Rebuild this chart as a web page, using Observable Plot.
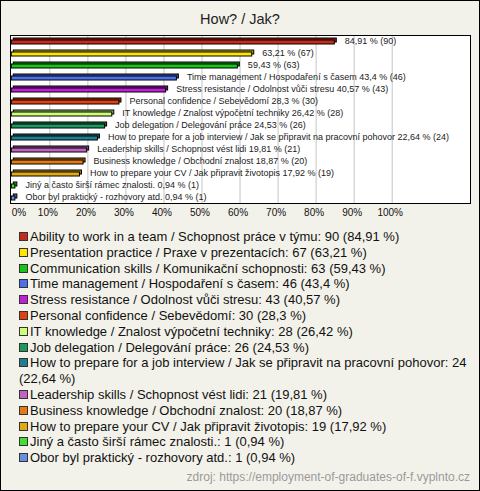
<!DOCTYPE html>
<html>
<head>
<meta charset="utf-8">
<script src="https://cdn.jsdelivr.net/npm/d3@7"></script>
<script src="https://cdn.jsdelivr.net/npm/@observablehq/plot@0.6"></script>
<style>
  html, body { margin: 0; padding: 0; }
  #chart {
    position: relative; width: 480px; height: 491px; overflow: hidden;
    background: #f3f2ea; box-shadow: inset 0 0 0 1px #000;
    font-family: Arial, "Liberation Sans", sans-serif;
  }
  #title {
    position: absolute; left: 0; top: 11px; width: 480px; text-align: center;
    font-size: 14.5px; line-height: 17px; color: #222;
  }
  #plot { position: absolute; left: 0; top: 0; }
  #legend {
    position: absolute; left: 19px; top: 229px; width: 452px;
    font-size: 13px; line-height: 15.8px; color: #111;
  }
  #legend .sw {
    display: inline-block; width: 7px; height: 7px; border: 1px solid #333;
    margin-right: 2px; vertical-align: 0px;
  }
  #source {
    position: absolute; right: 10px; top: 470px; font-size: 12px; line-height: 14px; color: #9a9a9a;
  }
</style>
</head>
<body>
<div id="chart">
  <div id="title">How? / Jak?</div>
  <div id="plot"></div>
  <div id="legend"></div>
  <div id="source">zdroj: https://employment-of-graduates-of-f.vyplnto.cz</div>
</div>
<script>
const categories = [
  "Ability to work in a team / Schopnost práce v týmu",
  "Presentation practice / Praxe v prezentacích",
  "Communication skills / Komunikační schopnosti",
  "Time management / Hospodaření s časem",
  "Stress resistance / Odolnost vůči stresu",
  "Personal confidence / Sebevědomí",
  "IT knowledge / Znalost výpočetní techniky",
  "Job delegation / Delegování práce",
  "How to prepare for a job interview / Jak se připravit na pracovní pohovor",
  "Leadership skills / Schopnost vést lidi",
  "Business knowledge / Obchodní znalost",
  "How to prepare your CV / Jak připravit životopis",
  "Jiný a často širší rámec znalosti.",
  "Obor byl praktický - rozhovory atd."
];
const counts = [90, 67, 63, 46, 43, 30, 28, 26, 24, 21, 20, 19, 1, 1];
const percents = [84.91, 63.21, 59.43, 43.4, 40.57, 28.3, 26.42, 24.53, 22.64, 19.81, 18.87, 17.92, 0.94, 0.94];
const colors = [
  "#c62a1c", "#ffe600", "#17c417", "#4a70ea", "#c01fd8", "#e0420e",
  "#ccff77", "#1a9a5c", "#1f7f92", "#c262c2", "#e27c12", "#e2ab12",
  "#44dd33", "#6b8fdf"
];
const xTicks = [0, 10, 20, 30, 40, 50, 60, 70, 80, 90, 100];

const fmt = v => String(v).replace(".", ",");
const data = categories.map((name, i) => ({
  name, count: counts[i], pct: percents[i], color: colors[i],
  top: d3.color(colors[i]).darker(0.9).formatHex()
}));

const chart = Plot.plot({
  width: 480, height: 226,
  marginLeft: 10, marginRight: 10, marginTop: 35, marginBottom: 23,
  x: {domain: [0, 100], range: [11.3, 391.7], axis: null},
  y: {domain: categories, range: [35, 203], padding: 0, axis: null},
  color: {type: "identity"},
  style: {background: "transparent", fontFamily: "Arial, 'Liberation Sans', sans-serif", fontSize: "9px", color: "#222", overflow: "visible"},
  marks: [
    Plot.frame({fill: "white"}),
    Plot.ruleX(xTicks.filter(t => t > 0), {stroke: "#c4c4c4", strokeOpacity: 1}),
    Plot.barX(data, {x: "pct", y: "name", fill: "top", stroke: "black", strokeWidth: 1, insetTop: 5, insetBottom: 3, dx: 2, dy: -2}),
    Plot.barX(data, {x: "pct", y: "name", fill: "color", stroke: "black", strokeWidth: 1, insetTop: 5, insetBottom: 3}),
    Plot.text(data, {
      x: "pct", y: "name",
      text: d => (d.pct > 50 ? "" : d.name + " ") + fmt(d.pct) + " % (" + d.count + ")",
      dx: 10, textAnchor: "start", fill: "#222", fontSize: 9
    }),
    Plot.frame({stroke: "black", strokeOpacity: 1}),
    Plot.text(xTicks.filter(t => t > 0), {x: d => d, frameAnchor: "bottom", dy: 12, text: d => d + "%", fontSize: 10, fill: "#111", dx: -2}),
    Plot.text([0], {x: d => d, frameAnchor: "bottom", dy: 12, text: d => d + "%", fontSize: 10, fill: "#111", textAnchor: "start"})
  ]
});
document.getElementById("plot").appendChild(chart);

const legend = document.getElementById("legend");
data.forEach(d => {
  const row = document.createElement("div");
  const sw = document.createElement("span");
  sw.className = "sw";
  sw.style.background = d.color;
  row.appendChild(sw);
  row.appendChild(document.createTextNode(d.name + ": " + d.count + " (" + fmt(d.pct) + " %)"));
  legend.appendChild(row);
});
</script>
</body>
</html>
